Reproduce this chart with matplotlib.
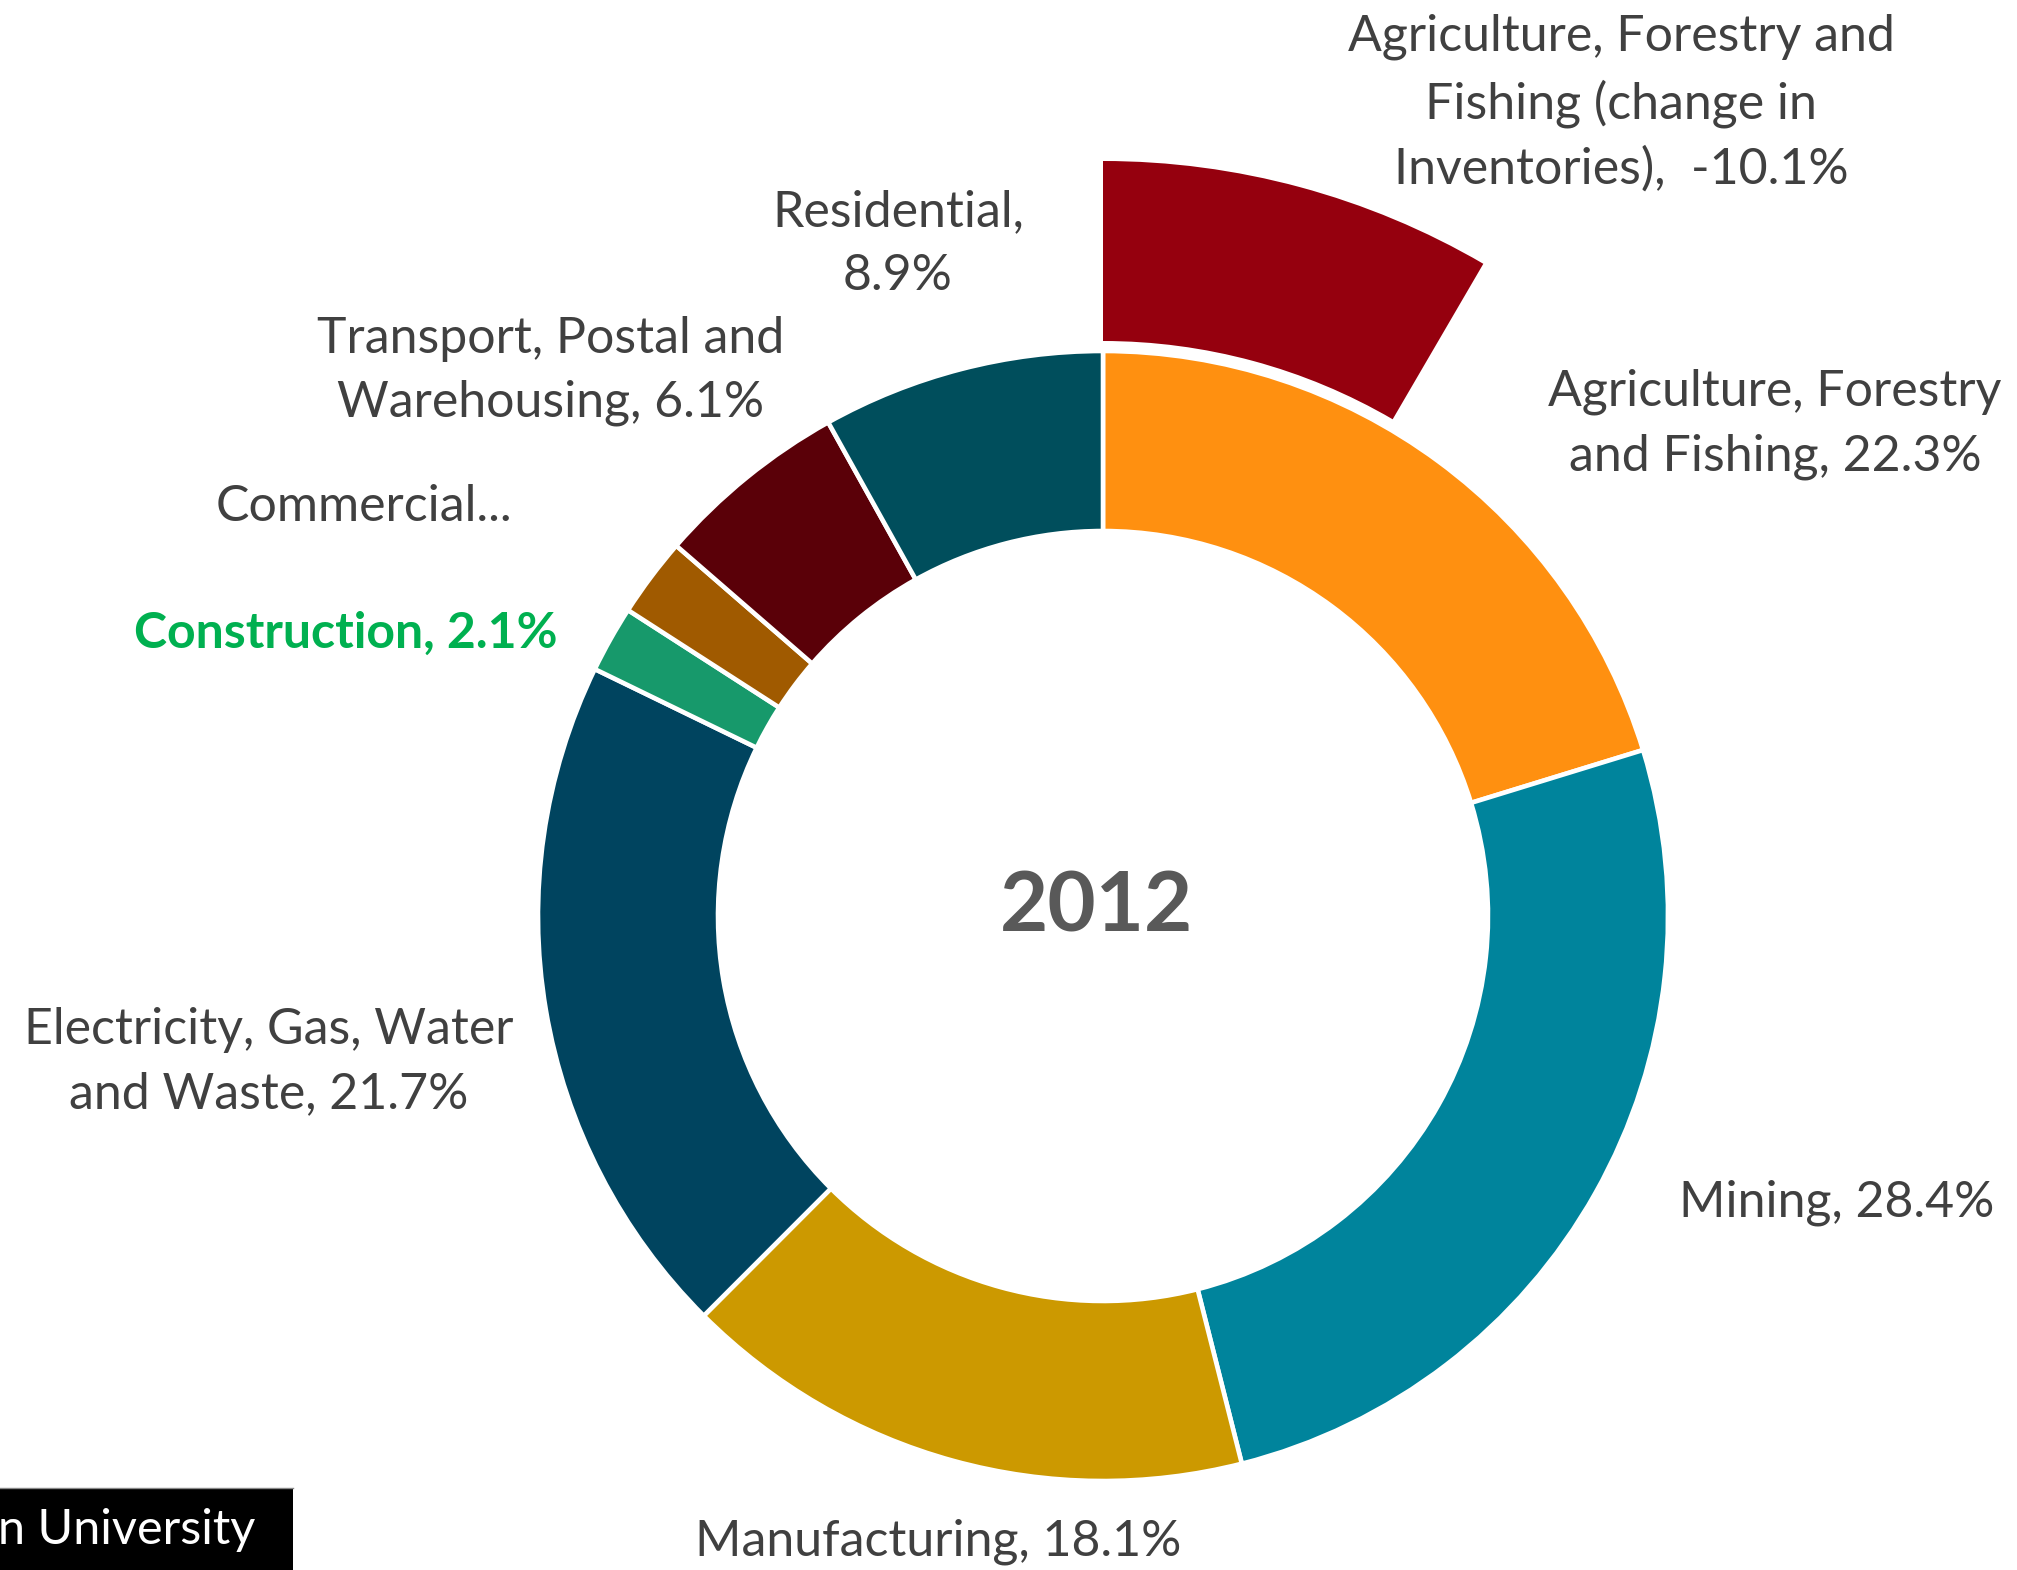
import matplotlib.pyplot as plt

W, H = 2017, 1570

# sector shares of the 2012 total (the inventory change is negative)
sectors = ["Agriculture, Forestry\nand Fishing", "Mining", "Manufacturing",
           "Electricity, Gas, Water\nand Waste", "Construction", "Commercial",
           "Transport, Postal and\nWarehousing", "Residential"]
shares = [22.3, 28.4, 18.1, 21.7, 2.1, 2.5, 6.1, 8.9]
colors = ["#FF9010", "#00849C", "#CC9900", "#00445F", "#17996B", "#A05A00",
          "#5A0008", "#004E5C"]

inventory_name = "Agriculture, Forestry and\nFishing (change in\nInventories)"
inventory_share = -10.1
inventory_color = "#95000E"

year = "2012"

# label centres in pixels from the top-left corner
label_pos = [(1775, 424), (1837, 1203), (938, 1542), (269, 1062), (346, 633),
             (364, 507), (551, 371), (898, 244)]
inventory_pos = (1621, 103)
year_pos = (1097, 908)

cx, cy = 1103, 916
r_in, r_out, ring = 565, 755, 180

fig = plt.figure(figsize=(W / 100, H / 100), dpi=100)
ax = fig.add_axes([0, 0, 1, 1])

ax.pie(shares, radius=r_in, center=(cx, H - cy), startangle=90, counterclock=False,
       colors=colors, frame=True,
       wedgeprops=dict(width=ring, edgecolor="white", linewidth=3.3))

outer, _ = ax.pie([abs(inventory_share), sum(shares)], radius=r_out, center=(cx, H - cy),
                  startangle=90, counterclock=False, colors=[inventory_color, "white"],
                  frame=True, wedgeprops=dict(width=ring, linewidth=0))
outer[1].set_visible(False)

ax.set_xlim(0, W)
ax.set_ylim(0, H)
ax.axis("off")

font = "Lato"
gray = "#404040"
fs = 36
ls = 1.49
for name, v, (x, y) in zip(sectors, shares, label_pos):
    if name == "Commercial":
        txt, kw = "Commercial...", {}
    elif name == "Construction":
        txt, kw = f"{name}, {v:.1f}%", dict(color="#00B050", fontweight="bold")
    elif name == "Residential":
        txt, kw = f"{name},\n{v:.1f}%", {}
    else:
        txt, kw = f"{name}, {v:.1f}%", {}
    kw.setdefault("color", gray)
    ax.text(x, H - y, txt, ha="center", va="center", fontsize=fs, family=font,
            linespacing=ls, multialignment="center", **kw)

ax.text(inventory_pos[0], H - inventory_pos[1], f"{inventory_name},  {inventory_share:.1f}%",
        ha="center", va="center", fontsize=fs, family=font, color=gray,
        linespacing=ls, multialignment="center")

ax.text(year_pos[0], H - year_pos[1], year, ha="center", va="center", fontsize=60,
        family=font, fontweight="bold", color="#595959")

# footer badge cut off at the left edge
ax.add_patch(plt.Rectangle((0, 0), 293, H - 1488, facecolor="black", edgecolor="none"))
ax.plot([0, 293], [H - 1488, H - 1488], color="#888888", lw=1)
ax.text(-2, H - 1530, "n University", ha="left", va="center", fontsize=35, family=font,
        color="white")

fig.savefig("out.png", dpi=100)
